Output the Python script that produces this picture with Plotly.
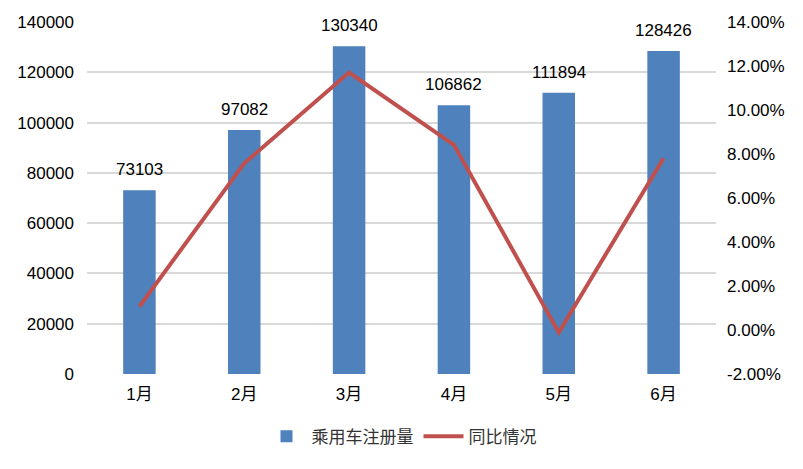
import plotly.graph_objects as go

months = ["1月", "2月", "3月", "4月", "5月", "6月"]
registrations = [73103, 97082, 130340, 106862, 111894, 128426]
yoy = [0.0107, 0.0758, 0.1170, 0.0842, -0.0011, 0.0781]

left_ticks = [0, 20000, 40000, 60000, 80000, 100000, 120000, 140000]
right_ticks = [-0.02, 0.0, 0.02, 0.04, 0.06, 0.08, 0.10, 0.12, 0.14]
right_ticktext = ["-2.00%", "0.00%", "2.00%", "4.00%", "6.00%", "8.00%", "10.00%", "12.00%", "14.00%"]

font_main = "Liberation Sans, Arial, Noto Sans CJK SC, sans-serif"

fig = go.Figure()
fig.add_trace(go.Bar(
    x=months, y=registrations, name="乘用车注册量",
    marker=dict(color="#4F81BD", line=dict(width=0)),
))
fig.add_trace(go.Scatter(
    x=months, y=yoy, name="同比情况", yaxis="y2", mode="lines",
    line=dict(color="#C0504D", width=4),
))

for m, v in zip(months, registrations):
    fig.add_annotation(x=m, y=v, xref="x", yref="y", text=str(v), showarrow=False,
                       yanchor="bottom", yshift=9,
                       font=dict(size=17, color="#000000", family=font_main))

fig.update_layout(
    width=795, height=461,
    margin=dict(l=79, r=87, t=14, b=95, autoexpand=False),
    paper_bgcolor="white", plot_bgcolor="white",
    font=dict(family=font_main, size=17, color="#000000"),
    bargap=0.69,
    showlegend=True,
    legend=dict(orientation="h", x=0.5, xanchor="center", y=-0.178, yanchor="middle",
                font=dict(size=17, family="Noto Sans CJK SC, sans-serif", color="#333333"),
                itemwidth=40),
    xaxis=dict(showgrid=False, showline=False, ticks="", tickfont=dict(size=17),
               ticklabelstandoff=8, automargin=False, fixedrange=True),
    yaxis=dict(range=[0, 140000], tickvals=left_ticks, tickformat="d",
               showgrid=True, gridcolor="#D9D9D9",
               gridwidth=1.5, zeroline=False, ticks="", tickfont=dict(size=17),
               ticklabelstandoff=12, automargin=False, fixedrange=True),
    yaxis2=dict(range=[-0.02, 0.14], tickvals=right_ticks, ticktext=right_ticktext,
                overlaying="y", side="right", showgrid=False, zeroline=False, ticks="",
                tickfont=dict(size=17), ticklabelstandoff=10, automargin=False,
                fixedrange=True),
)

fig.write_html("out.html")
